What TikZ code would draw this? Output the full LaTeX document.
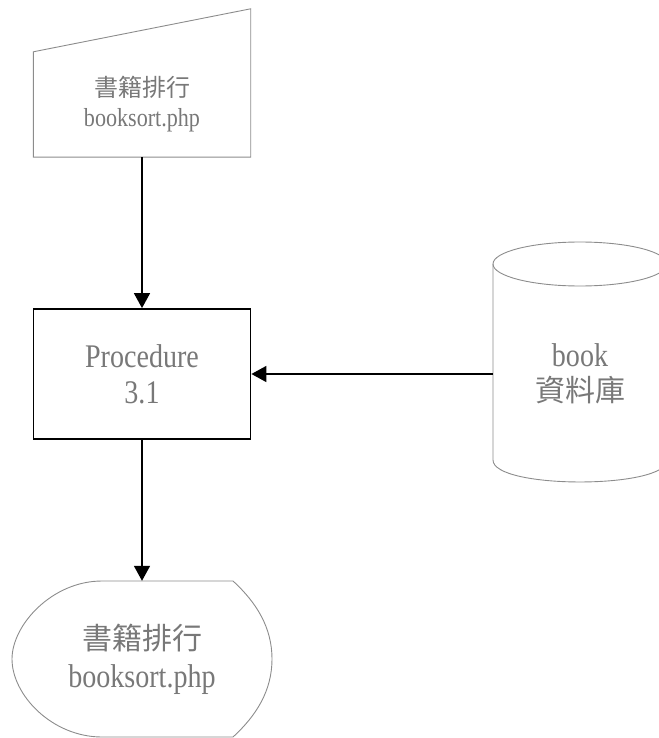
\documentclass[tikz,border=0pt]{standalone}
\usepackage{fontspec}
\setmainfont{Liberation Serif}[FakeStretch=0.85]
\newfontfamily\cjk{Noto Sans CJK TC}
\usetikzlibrary{arrows.meta}
\definecolor{txtgray}{RGB}{120,120,120}
\definecolor{linegray}{RGB}{140,140,140}
\tikzset{
  lbl/.style={text=txtgray, align=center, inner sep=0pt},
  outl/.style={draw=linegray, line width=0.9pt},
  arr/.style={draw=black, line width=1.6pt, -{Triangle[length=15pt, width=16pt]}},
  procbox/.style={draw=black, line width=1.8pt, text=txtgray, align=center, inner sep=0pt,
                  minimum width=217pt, minimum height=130pt}
}
\begin{document}
\begin{tikzpicture}[x=1pt, y=-1pt]
\useasboundingbox (0,0) rectangle (658,738);
% manual input (top)
\node[lbl, minimum width=217pt, minimum height=105pt, font=\fontsize{26}{30}\selectfont] (inp) at (142,104.5)
  {{\fontsize{24}{30}\selectfont\cjk 書籍排行}\\ booksort.php};
\draw[outl] (inp.south west) -- (inp.south east) -- ([yshift=43pt]inp.north east) -- (inp.north west) -- cycle;
% procedure box
\node[procbox, font=\fontsize{33}{36}\selectfont] (proc) at (142,374)
  {Procedure\\ 3.1};
% database cylinder
\node[lbl, minimum width=174pt, minimum height=196pt, font=\fontsize{33}{35}\selectfont] (db) at (580,374)
  {book\\ {\fontsize{30}{35}\selectfont\cjk 資料庫}};
\draw[outl] (580,264) ellipse [x radius=87, y radius=22];
\draw[outl] (493,264) -- (493,460)
  .. controls (493,489.3) and (667,489.3) .. (667,460) -- (667,264);
% display (bottom)
\node[lbl, minimum width=260pt, minimum height=156pt, font=\fontsize{33}{38}\selectfont] (disp) at (142,659)
  {{\fontsize{30}{38}\selectfont\cjk 書籍排行}\\ booksort.php};
\draw[outl] (233,581) -- (102,581)
  .. controls (52,581) and (12,625) .. (12,659)
  .. controls (12,695) and (52,737) .. (102,737)
  -- (233,737)
  .. controls (257,715) and (272,690) .. (272,659)
  .. controls (272,628) and (257,603) .. (233,581);
% connectors
\draw[arr] (inp.south) -- (proc.north);
\draw[arr] (proc.south) -- (disp.north);
\draw[arr] (proc.east -| db.west) -- (proc.east);
\end{tikzpicture}
\end{document}
